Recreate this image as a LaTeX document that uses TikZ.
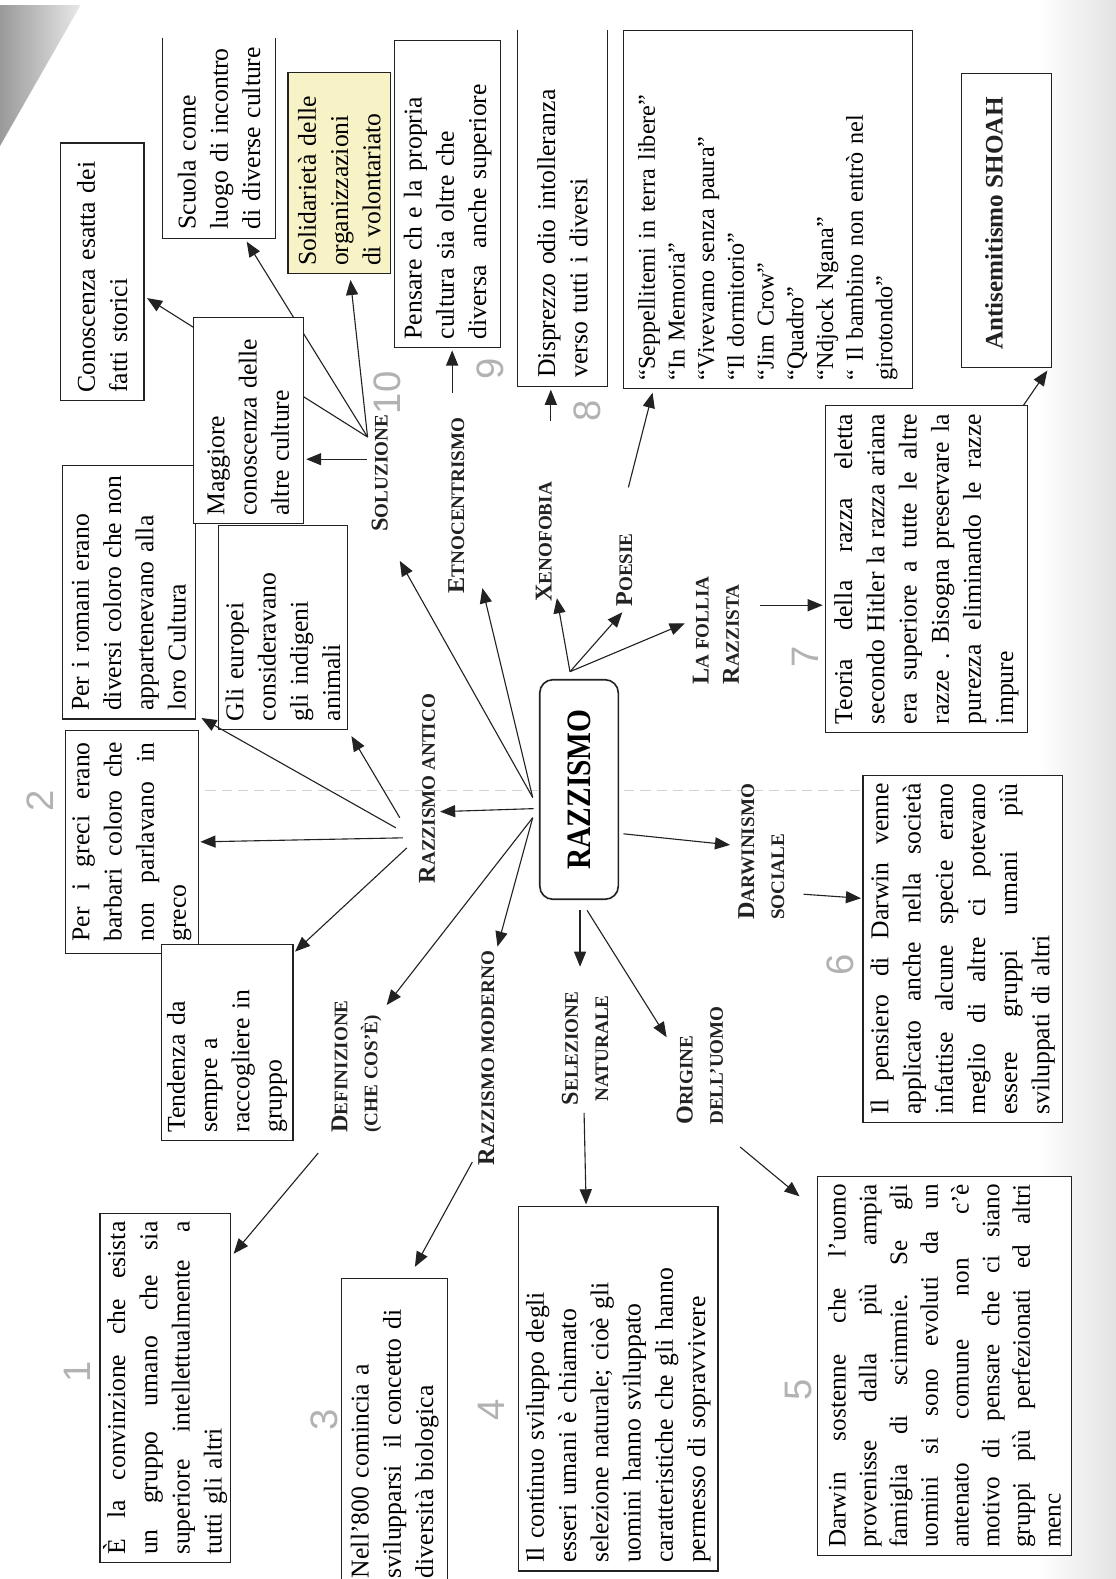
\documentclass[tikz,border=0pt]{standalone}
\usepackage{fontspec}
\setmainfont{Liberation Serif}
\newfontfamily\handfont{Liberation Sans}
\usetikzlibrary{arrows.meta}
\setlength\parindent{0pt}
\newcommand\Bg[1]{{\fontsize{24}{30}\selectfont #1}}
\definecolor{ink}{HTML}{222222}
\definecolor{hl}{HTML}{F8F3C6}
\begin{document}
\begin{tikzpicture}[x=1pt,y=-1pt,
  body/.style={font=\fontsize{25.5}{32}\selectfont},
  box/.style={rotate=90, draw=ink, line width=1.1pt, fill=white, body, align=left, inner xsep=8pt, inner ysep=3pt},
  boxline/.style={draw=ink, line width=1.1pt},
  lbl/.style={rotate=90, font=\bfseries\fontsize{19}{30}\selectfont, align=left, inner sep=1pt, text=ink},
  hand/.style={rotate=90, font=\handfont\fontsize{38}{38}\selectfont, text=gray!60, inner sep=0pt},
  arr/.style={draw=ink, line width=1.1pt, -{Triangle[length=15pt,width=12pt]}},
]
\useasboundingbox (0,0) rectangle (1108,1568);
\fill[white] (0,0) rectangle (1108,1568);
% scan artefacts
\shade[left color=white, right color=gray!22] (1030,0) rectangle (1108,1568);
\shade[left color=gray!80, right color=gray!18] (0,5) -- (80,5) -- (0,145) -- cycle;
\draw[gray!35, line width=1pt, dash pattern=on 10pt off 6pt] (140,785) -- (1050,785);

% ---- central node
\node[rotate=90, draw=ink, fill=white, line width=1.6pt, rounded corners=13pt, minimum width=218pt, minimum height=78pt, font=\bfseries\fontsize{34}{36}\selectfont] (RZ) at (575,784) {\scalebox{0.86}[1]{RAZZISMO}};

% ---- boxes
\node[box, text width=240pt, minimum width=256pt, minimum height=83pt] (A) at (101.5,270) {Conoscenza esatta dei\\fatti storici};
\node[box, draw=none, text width=182pt, minimum width=198pt, minimum height=111pt] (B) at (217.5,137) {Scuola come\\luogo di incontro\\di diverse culture};
\draw[boxline] (B.north east) -- (B.north west) -- (B.south west) -- (B.south east);
\node[box, fill=hl, text width=184pt, minimum width=200pt, minimum height=102pt] (C) at (337,172) {Solidarietà delle\\organizzazioni\\di volontariato};
\node[box, text width=289pt, minimum width=305pt, minimum height=105pt] (D) at (444.5,192.5) {Pensare ch e la propria\\cultura sia oltre che\\diversa\ \ anche superiore};
\node[box, draw=none, text width=337pt, minimum width=353pt, minimum height=89pt] (E) at (558.5,206.5) {Disprezzo odio intolleranza\\verso tutti i diversi};
\draw[boxline] (E.north east) -- (E.north west) -- (E.south west) -- (E.south east);
\node[box, font=\fontsize{24}{29.5}\selectfont, text width=340pt, minimum width=356pt, minimum height=287pt] (F) at (762.5,208) {“Seppellitemi in terra libere”\\“In Memoria”\\“Vivevamo senza paura”\\“Il dormitorio”\\“Jim Crow”\\“Quadro”\\“Ndjock Ngana”\\“ Il bambino non entrò nel\\girotondo”};
\node[box, minimum width=292pt, minimum height=89pt] (G) at (999.5,219) {};
\node[rotate=90, font=\bfseries\fontsize{25}{30}\selectfont, text=ink] (Gt) at (987,222) {Antisemitismo SHOAH};
\node[box, text width=236pt, minimum width=252pt, minimum height=132pt] (I) at (128,588) {Per i romani erano\\diversi coloro che non\\appartenevano alla\\loro Cultura};
\node[box, text width=186pt, minimum width=202pt, minimum height=128pt] (J) at (281,623) {Gli europei\\consideravano\\gli indigeni\\animali};
\node[box, text width=198pt, minimum width=222pt, minimum height=132pt] (K) at (131,836) {Per\hfill i\hfill greci\hfill erano\\barbari\hfill coloro\hfill che\\non\hfill parlavano\hfill in\\greco};
\node[box, text width=179pt, minimum width=195pt, minimum height=131pt] (L) at (225.5,1035) {Tendenza da\\sempre a\\raccogliere in\\gruppo};
\node[box, text width=331pt, minimum width=347pt, minimum height=128pt] (M) at (164,1378.5) {È\hfill la\hfill convinzione\hfill che\hfill esista\\un\hfill gruppo\hfill umano\hfill che\hfill sia\\superiore\hfill intellettualmente\hfill a\\tutti gli altri};
\node[box, draw=none, text width=289pt, minimum width=305pt, minimum height=104pt] (N) at (392,1422.5) {Nell’800 comincia a\\svilupparsi\ \ il concetto di\\diversità biologica};
\draw[boxline] (N.north west) -- (N.north east) -- (N.south east) -- (N.south west);
\node[box, text width=346pt, minimum width=362pt, minimum height=198pt] (O) at (614,1379) {Il continuo sviluppo degli\\esseri umani è chiamato\\selezione naturale; cioè gli\\uomini hanno sviluppato\\caratteristiche che gli hanno\\permesso di sopravvivere};
\node[box, font=\fontsize{25}{30.5}\selectfont, text width=361pt, minimum width=377pt, minimum height=252pt] (P) at (938,1356.5) {Darwin\hfill sostenne\hfill che\hfill l’uomo\\provenisse\hfill dalla\hfill più\hfill ampia\\famiglia\hfill di\hfill scimmie.\hfill Se\hfill gli\\uomini\hfill si\hfill sono\hfill evoluti\hfill da\hfill un\\antenato\hfill comune\hfill non\hfill c’è\\motivo\hfill di\hfill pensare\hfill che\hfill ci\hfill siano\\gruppi\hfill più\hfill perfezionati\hfill ed\hfill altri\\menc};
\node[box, text width=329pt, minimum width=345pt, minimum height=198pt] (Q) at (956,942.5) {Il\hfill pensiero\hfill di\hfill Darwin\hfill venne\\applicato\hfill anche\hfill nella\hfill società\\infattise\hfill alcune\hfill specie\hfill erano\\meglio\hfill di\hfill altre\hfill ci\hfill potevano\\essere\hfill gruppi\hfill umani\hfill più\\sviluppati di altri};
\node[box, text width=308pt, minimum width=324pt, minimum height=200pt] (R) at (920,565) {Teoria\hfill della\hfill razza\hfill eletta\\secondo\hfill Hitler\hfill la\hfill razza\hfill ariana\\era\hfill superiore\hfill a\hfill tutte\hfill le\hfill altre\\razze\hfill .\hfill Bisogna\hfill preservare\hfill la\\purezza\hfill eliminando\hfill le\hfill razze\\impure};

% ---- labels
\node[lbl] (sol) at (377,470) {\Bg{S}OLUZIONE};
\node[lbl] (etn) at (453,502) {\Bg{E}TNOCENTRISMO};
\node[lbl] (xen) at (540,538) {\Bg{X}ENOFOBIA};
\node[lbl] (poe) at (620,566) {\Bg{P}OESIE};
\node[lbl] (fol) at (711,626) {\Bg{L}A FOLLIA\\\Bg{R}AZZISTA};
\node[lbl] (ant) at (424,783) {\Bg{R}AZZISMO ANTICO};
\node[lbl] (dar) at (756,846) {\Bg{D}ARWINISMO\\SOCIALE};
\node[lbl] (def) at (354,1059) {\Bg{D}EFINIZIONE\\(CHE COS’È)};
\node[lbl] (mod) at (483,1051) {\Bg{R}AZZISMO MODERNO};
\node[lbl, align=center] (sel) at (581,1041) {\Bg{S}ELEZIONE\\NATURALE};
\node[lbl] (ori) at (695,1058) {\Bg{O}RIGINE\\DELL’UOMO};

% ---- handwritten numbers
\node[hand] (h1) at (77,1362) {1};
\node[hand] (h2) at (40,795) {2};
\node[hand] (h3) at (322,1410) {3};
\node[hand] (h4) at (488,1400) {4};
\node[hand] (h5) at (793,1380) {5};
\node[hand] (h6) at (834,958) {6};
\node[hand] (h7) at (800,652) {7};
\node[hand] (h8) at (583,408) {8};
\node[hand] (h9) at (487,366) {9};
\node[hand] (h10) at (385,390) {10};

% ---- connector end points
\coordinate (zL) at (530,803);
\coordinate (zL2) at (529,792);
\coordinate (zL3) at (529,812);
\coordinate (zT) at (566,667);
\coordinate (zB1) at (576,904);
\coordinate (zB2) at (583,904);
\coordinate (zR) at (619,828);
\coordinate (tAnt) at (437,806);
\coordinate (tSol) at (397,557);
\coordinate (tEtn) at (479,584);
\coordinate (tDef) at (384,998);
\coordinate (tMod) at (494,940);
\coordinate (tXen) at (553,594);
\coordinate (tPoe) at (618,608);
\coordinate (tFol) at (680,619);
\coordinate (tSel) at (576,960);
\coordinate (tOri) at (662,1030);
\coordinate (tDar) at (725,839);
\coordinate (aI) at (393,822);   \coordinate (tI) at (200,713);
\coordinate (aJ) at (397,812);   \coordinate (tJ) at (349,731);
\coordinate (aK) at (400,832);   \coordinate (tK) at (199,836);
\coordinate (aL) at (404,842);   \coordinate (tL) at (293,945);
\coordinate (sO) at (365,434);
\coordinate (sH) at (364,456);
\coordinate (tA) at (146,296);
\coordinate (tB) at (245,240);
\coordinate (tC) at (348,278);
\coordinate (tH) at (304,456);
\coordinate (eD) at (449,390);   \coordinate (tD) at (449,348);
\coordinate (xE) at (547,418);   \coordinate (tE) at (547,387);
\coordinate (pF) at (624,484);   \coordinate (tF) at (648,390);
\coordinate (fR) at (755,601);   \coordinate (tR) at (817,601);
\coordinate (rG) at (1016,403);  \coordinate (tG) at (1040,368);
\coordinate (dQ) at (798,888);   \coordinate (tQ) at (855,892);
\coordinate (dM) at (316,1145);  \coordinate (tM) at (232,1245);
\coordinate (mN) at (469,1154);  \coordinate (tN) at (412,1258);
\coordinate (sOo) at (580,1105); \coordinate (tO) at (582,1196);
\coordinate (oP) at (735,1139);  \coordinate (tP) at (794,1188);

% ---- connectors
\draw[arr] (zL) -- (tAnt);
\draw[arr] (zL2) -- (tSol);
\draw[arr] (zL2) -- (tEtn);
\draw[arr] (zL3) -- (tDef);
\draw[arr] (zL3) -- (tMod);
\draw[arr] (zT) -- (tXen);
\draw[arr] (zT) -- (tPoe);
\draw[arr] (zT) -- (tFol);
\draw[arr] (zB1) -- (tSel);
\draw[arr] (zB2) -- (tOri);
\draw[arr] (zR) -- (tDar);
\draw[arr] (aI) -- (tI);
\draw[arr] (aJ) -- (tJ);
\draw[arr] (aK) -- (tK);
\draw[arr] (aL) -- (tL);
\draw[arr] (sO) -- (tB);
\draw[arr] (sO) -- (tC);
\draw[arr] (sH) -- (tH);
\draw[arr] (eD) -- (tD);
\draw[arr] (xE) -- (tE);
\draw[arr] (pF) -- (tF);
\draw[arr] (fR) -- (tR);
\draw[arr] (rG) -- (tG);
\draw[arr] (dQ) -- (tQ);
\draw[arr] (dM) -- (tM);
\draw[arr] (mN) -- (tN);
\draw[arr] (sOo) -- (tO);
\draw[arr] (oP) -- (tP);
% arrow to Conoscenza passes behind the Maggiore box
\draw[arr] (sO) -- (tA);
\node[box, text width=189pt, minimum width=205pt, minimum height=109pt] (H) at (246.5,417.5) {Maggiore\\conoscenza delle\\altre culture};
\end{tikzpicture}
\end{document}
